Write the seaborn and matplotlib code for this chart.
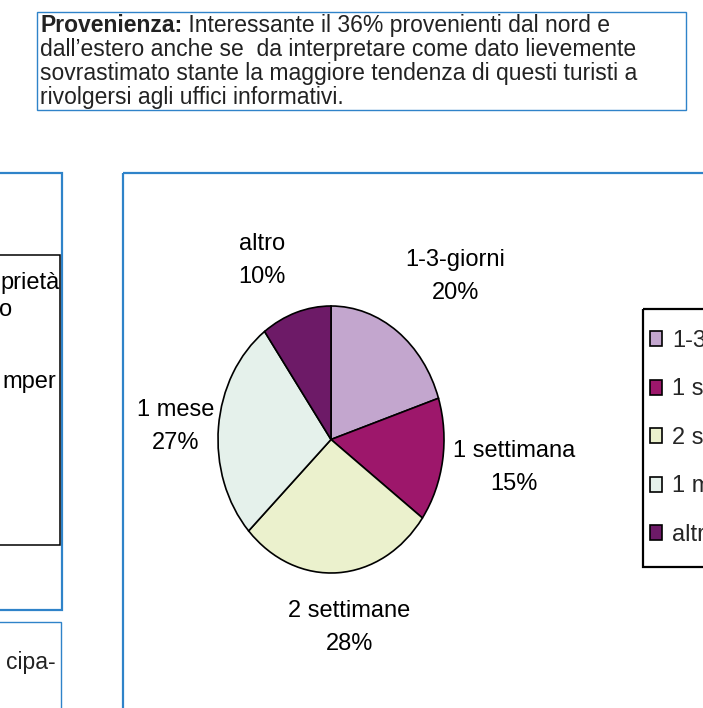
import numpy as np
import matplotlib
matplotlib.use("Agg")
import matplotlib.pyplot as plt
from matplotlib.patches import Rectangle
import seaborn as sns

# ─── DATA ─────────────────────────────────────────────────
categories = ["1-3-giorni", "1 settimana", "2 settimane", "1 mese", "altro"]
shares     = [20, 15, 28, 27, 10]
colors     = ["#C3A6CE", "#9D176B", "#EBF1CD", "#E5F1EB", "#6D1A67"]

note_title = "Provenienza:"
note_lines = [
    " Interessante il 36% provenienti dal nord e",
    "dall\u2019estero anche se  da interpretare come dato lievemente",
    "sovrastimato stante la maggiore tendenza di questi turisti a",
    "rivolgersi agli uffici informativi.",
]
side_words = ["prietà", "o", "mper"]
side_note  = "cipa-"

# label placement (angle shift in degrees, distance in radii)
label_shift = [-6, 1.6, 3, 1.3, 6.5]
label_dist  = [1.645, 1.63, 1.42, 1.38, 1.47]

# ─── STYLE ────────────────────────────────────────────────
sns.set_theme(style="white")
plt.rcParams["font.family"] = ["Liberation Sans", "DejaVu Sans"]

W, H = 703, 708
BLUE = "#2F83C9"
fig = plt.figure(figsize=(W / 100, H / 100), dpi=100)
fig.patch.set_facecolor("white")

# page-like background axes in pixel units
bg = fig.add_axes([0, 0, 1, 1])
bg.set_xlim(0, W)
bg.set_ylim(H, 0)
bg.axis("off")

# top note box
bg.add_patch(Rectangle((37, 12), 649, 98, fill=False, ec=BLUE, lw=1.0))
t0 = bg.text(40, 32, note_title, fontsize=16.5, fontweight="bold",
             color="#222222", va="baseline", ha="left")
bg.annotate(note_lines[0], xy=(1, 0), xycoords=t0, va="bottom", ha="left",
            fontsize=16.5, color="#222222")
for i, line in enumerate(note_lines[1:], start=1):
    bg.text(40, 32 + 24 * i, line, fontsize=16.5, color="#222222",
            va="baseline", ha="left")

# left column fragments
bg.add_patch(Rectangle((-10, 173), 72, 437, fill=False, ec=BLUE, lw=1.6))
bg.add_patch(Rectangle((-10, 255), 70, 290, fill=False, ec="black", lw=1.1))
bg.add_patch(Rectangle((-10, 622), 71, 120, fill=False, ec=BLUE, lw=1.0))
for word, (x, y) in zip(side_words, [(60, 283), (12, 310), (56, 382)]):
    bg.text(x, y, word, fontsize=17, ha="right", va="center", color="black")
bg.text(56, 663, side_note, fontsize=16.5, ha="right", va="center",
        color="#222222")

# chart box
bg.add_patch(Rectangle((123, 173), W, H, fill=False, ec=BLUE, lw=1.6))

# ─── PIE ──────────────────────────────────────────────────
left, right, top, bottom = 218, 444, 306, 573
ax = fig.add_axes([left / W, 1 - bottom / H, (right - left) / W, (bottom - top) / H])
wedges, _ = ax.pie(shares, colors=colors, startangle=90, counterclock=False,
                   wedgeprops=dict(edgecolor="black", linewidth=1.2))
ax.set_aspect("auto")
ax.set_xlim(-1, 1)
ax.set_ylim(-1, 1)
ax.axis("off")

for w, cat, val, dth, r in zip(wedges, categories, shares, label_shift, label_dist):
    th = np.deg2rad((w.theta1 + w.theta2) / 2 + dth)
    ax.text(r * np.cos(th), r * np.sin(th), f"{cat}\n{val}%",
            ha="center", va="center", fontsize=17, linespacing=1.65,
            color="black", clip_on=False)

# legend: frame drawn as a box, entries placed inside it
bg.add_patch(Rectangle((643, 309), 80, 258, fill=False, ec="black", lw=1.6))
leg = fig.legend(wedges, categories, loc="upper left",
                 bbox_to_anchor=(650 / W, 1 - 330 / H), borderaxespad=0,
                 fontsize=17, frameon=False, borderpad=0, handlelength=0.5,
                 handleheight=0.6, handletextpad=0.45, labelspacing=1.12)

fig.savefig("out.png", dpi=100)
